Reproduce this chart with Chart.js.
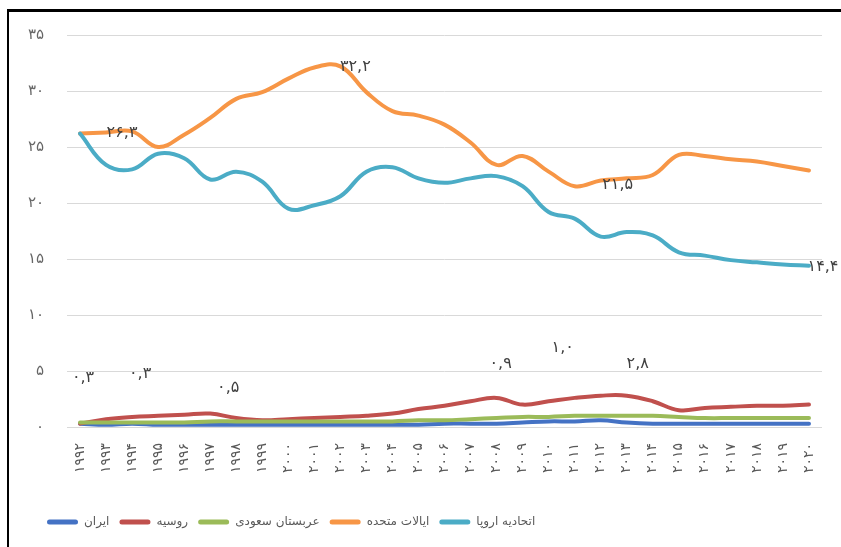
<!DOCTYPE html>
<html>
<head>
<meta charset="utf-8">
<script src="https://cdn.jsdelivr.net/npm/chart.js@4/dist/chart.umd.min.js"></script>
<style>
  html, body { margin: 0; padding: 0; background: #fff; }
  #wrap { position: relative; width: 841px; height: 547px; overflow: hidden; }
  #c { position: absolute; left: 0; top: 0; }
  #frame { position: absolute; left: 7px; top: 9px; width: 850px; height: 560px;
           border-top: 3px solid #000; border-left: 2px solid #000; pointer-events: none; }
</style>
</head>
<body>
<div id="wrap">
  <canvas id="c" width="841" height="547"></canvas>
  <div id="frame"></div>
</div>
<script>
// ---- data ----
const years = [1992,1993,1994,1995,1996,1997,1998,1999,2000,2001,2002,2003,2004,2005,2006,2007,2008,2009,2010,2011,2012,2013,2014,2015,2016,2017,2018,2019,2020];
const seriesNames = ['ایران', 'روسیه', 'عربستان سعودی', 'ایالات متحده', 'اتحادیه اروپا'];
const iran   = [0.3,0.2,0.3,0.2,0.2,0.2,0.2,0.2,0.2,0.2,0.2,0.2,0.2,0.2,0.3,0.3,0.3,0.4,0.5,0.5,0.6,0.4,0.3,0.3,0.3,0.3,0.3,0.3,0.3];
const russia = [0.3,0.7,0.9,1.0,1.1,1.2,0.8,0.6,0.7,0.8,0.9,1.0,1.2,1.6,1.9,2.3,2.6,2.0,2.3,2.6,2.8,2.8,2.3,1.5,1.7,1.8,1.9,1.9,2.0];
const saudi  = [0.4,0.4,0.4,0.4,0.4,0.5,0.5,0.5,0.5,0.5,0.5,0.5,0.5,0.6,0.6,0.7,0.8,0.9,0.9,1.0,1.0,1.0,1.0,0.9,0.8,0.8,0.8,0.8,0.8];
const usa    = [26.2,26.3,26.4,25.0,26.1,27.6,29.3,29.9,31.1,32.1,32.2,29.9,28.2,27.8,27.0,25.4,23.4,24.2,22.8,21.5,22.0,22.2,22.5,24.3,24.2,23.9,23.7,23.3,22.9];
const eu     = [26.2,23.4,23.0,24.4,24.0,22.1,22.8,21.9,19.5,19.8,20.6,22.8,23.2,22.2,21.8,22.2,22.4,21.5,19.2,18.6,17.0,17.4,17.1,15.6,15.3,14.9,14.7,14.5,14.4];
const yTicks = [0,5,10,15,20,25,30,35];
// data labels shown: [series index, year index]
const labelPoints = [[1,0],[0,2],[2,6],[2,17],[2,19],[1,21],[3,1],[3,10],[3,19],[4,28]];
// label offsets (pixels) from their points
const labelOffsets = [[3,-46],[8,-50],[-8,-34],[-22,-53],[-12,-68],[11,-32],[16,0],[15,0],[43,-1],[14,1]];

const colors = ['#4472C4', '#C0504D', '#9BBB59', '#F79646', '#4BACC6'];
const FONT = "'DejaVu Sans', 'Noto Sans', sans-serif";

function fa(str) {
  return String(str).replace(/[0-9]/g, d => '۰۱۲۳۴۵۶۷۸۹'[+d]);
}
function faDec(v) { return fa(v.toFixed(1).replace('.', ',')); }

const allSeries = [iran, russia, saudi, usa, eu];
const datasets = allSeries.map((d, i) => ({
  label: seriesNames[i],
  data: d,
  borderColor: colors[i],
  backgroundColor: colors[i],
  borderWidth: 4,
  pointRadius: 0,
  tension: 0.4,
  fill: false,
  order: 5 - i,
  borderCapStyle: 'round',
  borderJoinStyle: 'round'
}));

const dataLabelPlugin = {
  id: 'dataLabels',
  afterDatasetsDraw(chart) {
    const ctx = chart.ctx;
    ctx.save();
    ctx.font = '16px ' + FONT;
    ctx.fillStyle = '#404040';
    ctx.textAlign = 'center';
    ctx.textBaseline = 'middle';
    labelPoints.forEach(([s, idx], k) => {
      const meta = chart.getDatasetMeta(s);
      const pt = meta.data[idx];
      const [dx, dy] = labelOffsets[k];
      ctx.fillText(faDec(allSeries[s][idx]), pt.x + dx, pt.y + dy);
    });
    ctx.restore();
  }
};

const layoutTweaks = {
  id: 'layoutTweaks',
  afterLayout(chart) {
    chart.legend.left = 37;
  }
};

new Chart(document.getElementById('c'), {
  type: 'line',
  data: { labels: years.map(fa), datasets },
  plugins: [dataLabelPlugin, layoutTweaks],
  options: {
    responsive: false,
    devicePixelRatio: 1,
    animation: false,
    layout: { padding: { left: 12, right: 19, top: 35, bottom: 9 } },
    plugins: {
      tooltip: { enabled: false },
      legend: {
        position: 'bottom',
        align: 'start',
        labels: {
          boxWidth: 31,
          boxHeight: 5,
          padding: 10,
          color: '#595959',
          font: { family: FONT, size: 12 },
          useBorderRadius: true,
          borderRadius: 2.5,
          sort: (a, b) => a.datasetIndex - b.datasetIndex,
          generateLabels(chart) {
            const items = Chart.defaults.plugins.legend.labels.generateLabels(chart);
            items.forEach(it => { it.lineWidth = 0; });
            return items;
          }
        }
      }
    },
    scales: {
      x: {
        offset: true,
        grid: { display: false },
        border: { display: false },
        ticks: {
          autoSkip: false,
          minRotation: 90,
          maxRotation: 90,
          padding: 8,
          color: '#595959',
          font: { family: FONT, size: 14 }
        },
        afterFit(scale) { scale.height = 79; }
      },
      y: {
        min: 0,
        max: 35,
        afterBuildTicks(scale) { scale.ticks = yTicks.map(v => ({ value: v })); },
        grid: { color: '#D9D9D9', lineWidth: 1, drawTicks: false },
        border: { display: false },
        ticks: {
          padding: 23,
          color: '#666666',
          font: { family: FONT, size: 15 },
          callback: v => fa(v)
        },
        afterFit(scale) { scale.width = 55; }
      }
    }
  }
});
</script>
</body>
</html>
